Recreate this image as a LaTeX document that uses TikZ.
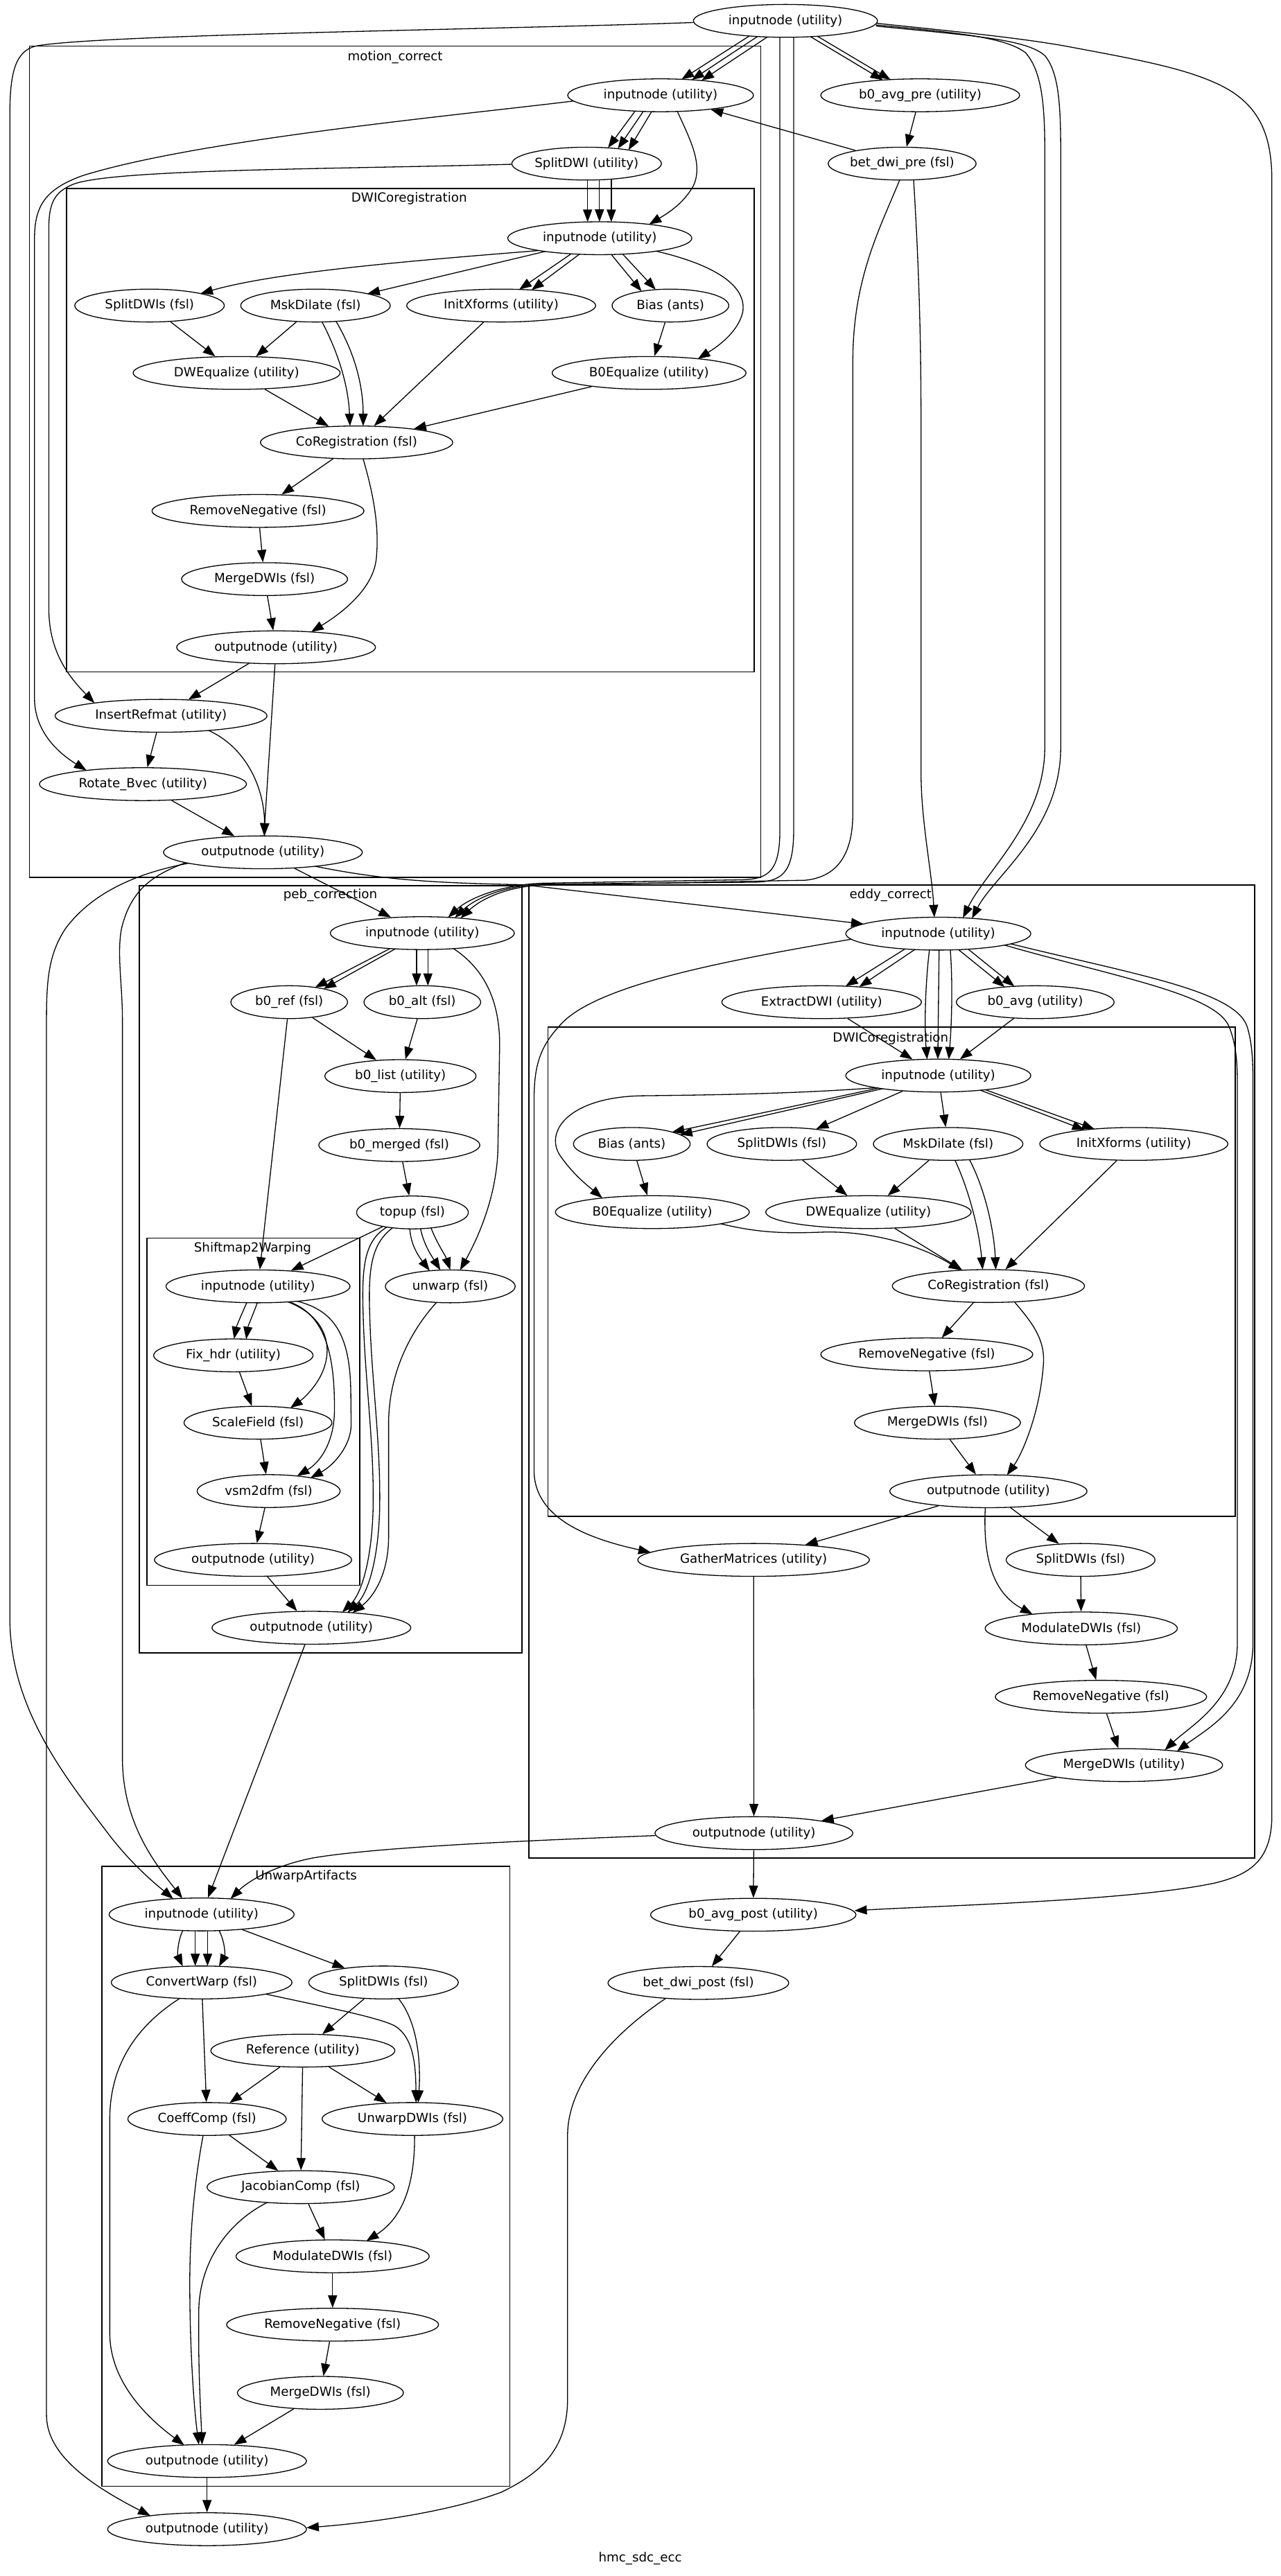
\documentclass[tikz,border=0pt]{standalone}
\usepackage{fontspec}
\setmainfont{DejaVu Sans}
\usetikzlibrary{arrows.meta,shapes.geometric}
\begin{document}
\begin{tikzpicture}[x=1pt,y=-1pt,
  nd/.style={draw, ellipse, line width=0.55pt, inner sep=0pt, minimum height=20pt, font=\fontsize{7.7}{9}\selectfont},
  cl/.style={draw, line width=0.7pt},
  lbl/.style={font=\fontsize{7.7}{9}\selectfont, inner sep=0pt},
  e/.style={line width=0.55pt, -{Triangle[length=7.5pt,width=5.5pt]}},
]
\fill[white] (0,0) rectangle (779.2,1568);
\path[use as bounding box] (0,0) rectangle (779.2,1568);

% ---------- clusters ----------
\draw[cl] (18,28) rectangle (463,534);
\node[lbl] at (240.5,35) {motion\_correct};
\draw[cl] (40.5,114.7) rectangle (459,409);
\node[lbl] at (249,121) {DWICoregistration};
\draw[cl] (84.8,539) rectangle (317.7,1006);
\node[lbl] at (201,545) {peb\_correction};
\draw[cl] (89.3,753.6) rectangle (218.8,965);
\node[lbl] at (153.7,759.8) {Shiftmap2Warping};
\draw[cl] (322,538.6) rectangle (763.4,1131);
\node[lbl] at (542,545) {eddy\_correct};
\draw[cl] (333.4,625.3) rectangle (751.8,923);
\node[lbl] at (542,632) {DWICoregistration};
\draw[cl] (62,1136) rectangle (310.3,1513.3);
\node[lbl] at (186.3,1142) {UnwarpArtifacts};
\node[lbl] at (389.6,1557.3) {hmc\_sdc\_ecc};

% ---------- top level nodes ----------
\node[nd, minimum width=112] (tin) at (478,12.7) {inputnode (utility)};
\node[nd, minimum width=121] (b0pre) at (560,58) {b0\_avg\_pre (utility)};
\node[nd, minimum width=90] (betpre) at (549,99.6) {bet\_dwi\_pre (fsl)};
\node[nd, minimum width=125] (b0post) at (458.4,1165.5) {b0\_avg\_post (utility)};
\node[nd, minimum width=110] (betpost) at (425,1207) {bet\_dwi\_post (fsl)};
\node[nd, minimum width=121] (tout) at (126,1539.5) {outputnode (utility)};

% motion_correct
\node[nd, minimum width=113] (mcin) at (402,58) {inputnode (utility)};
\node[nd, minimum width=91] (splitdwi) at (357,99.6) {SplitDWI (utility)};
\node[nd, minimum width=112] (mcdin) at (365,145) {inputnode (utility)};
\node[nd, minimum width=91] (mcsplit) at (91,186) {SplitDWIs (fsl)};
\node[nd, minimum width=91] (mcmsk) at (192,186) {MskDilate (fsl)};
\node[nd, minimum width=115] (mcinit) at (305,186) {InitXforms (utility)};
\node[nd, minimum width=71] (mcbias) at (408,186) {Bias (ants)};
\node[nd, minimum width=126] (mcdwe) at (144,227) {DWEqualize (utility)};
\node[nd, minimum width=118] (mcb0e) at (395,227) {B0Equalize (utility)};
\node[nd, minimum width=117] (mccoreg) at (217,269.3) {CoRegistration (fsl)};
\node[nd, minimum width=129] (mcrn) at (157,311) {RemoveNegative (fsl)};
\node[nd, minimum width=101] (mcmerge) at (161,352.5) {MergeDWIs (fsl)};
\node[nd, minimum width=121] (mcdout) at (168,394) {outputnode (utility)};
\node[nd, minimum width=129] (mcins) at (98,435.7) {InsertRefmat (utility)};
\node[nd, minimum width=126] (mcrot) at (87,477.3) {Rotate\_Bvec (utility)};
\node[nd, minimum width=121] (mcout) at (160,518.8) {outputnode (utility)};

% peb_correction
\node[nd, minimum width=112] (pin) at (257,568) {inputnode (utility)};
\node[nd, minimum width=71] (pref) at (176,610) {b0\_ref (fsl)};
\node[nd, minimum width=71] (palt) at (257,610) {b0\_alt (fsl)};
\node[nd, minimum width=92] (plist) at (243.7,655) {b0\_list (utility)};
\node[nd, minimum width=98] (pmerged) at (243,697) {b0\_merged (fsl)};
\node[nd, minimum width=68] (ptopup) at (251,738) {topup (fsl)};
\node[nd, minimum width=79] (punwarp) at (274,783) {unwarp (fsl)};
\node[nd, minimum width=112] (sin) at (157,783) {inputnode (utility)};
\node[nd, minimum width=97] (sfix) at (142,825) {Fix\_hdr (utility)};
\node[nd, minimum width=90] (sscale) at (157,866) {ScaleField (fsl)};
\node[nd, minimum width=87] (svsm) at (163.5,907.6) {vsm2dfm (fsl)};
\node[nd, minimum width=120] (sout) at (154,949.5) {outputnode (utility)};
\node[nd, minimum width=121] (pout) at (189.5,990.8) {outputnode (utility)};

% eddy_correct
\node[nd, minimum width=112.6] (ein) at (571,568.3) {inputnode (utility)};
\node[nd, minimum width=121.5] (eext) at (500,610) {ExtractDWI (utility)};
\node[nd, minimum width=96] (eb0) at (630,610) {b0\_avg (utility)};
\node[nd, minimum width=112.6] (edin) at (571,654.7) {inputnode (utility)};
\node[nd, minimum width=71] (ebias) at (384.5,696.3) {Bias (ants)};
\node[nd, minimum width=91] (esplit) at (475.8,696.3) {SplitDWIs (fsl)};
\node[nd, minimum width=91] (emsk) at (577,696.3) {MskDilate (fsl)};
\node[nd, minimum width=114.5] (einit) at (690,696.3) {InitXforms (utility)};
\node[nd, minimum width=118] (eb0e) at (397,737.8) {B0Equalize (utility)};
\node[nd, minimum width=125] (edwe) at (528.5,737.8) {DWEqualize (utility)};
\node[nd, minimum width=117] (ecoreg) at (601.5,782.8) {CoRegistration (fsl)};
\node[nd, minimum width=129] (ern) at (564,824.4) {RemoveNegative (fsl)};
\node[nd, minimum width=101] (emerge) at (570.5,866) {MergeDWIs (fsl)};
\node[nd, minimum width=120] (edout) at (601.5,907.7) {outputnode (utility)};
\node[nd, minimum width=141] (egather) at (458.6,949.5) {GatherMatrices (utility)};
\node[nd, minimum width=90.6] (esplit2) at (657.6,949.5) {SplitDWIs (fsl)};
\node[nd, minimum width=117] (emod) at (658,991.2) {ModulateDWIs (fsl)};
\node[nd, minimum width=128.6] (ern2) at (670,1032.8) {RemoveNegative (fsl)};
\node[nd, minimum width=120] (emerge2) at (684,1074.4) {MergeDWIs (utility)};
\node[nd, minimum width=120.4] (eout) at (458.8,1115.8) {outputnode (utility)};

% UnwarpArtifacts
\node[nd, minimum width=112.6] (uin) at (122.7,1165.3) {inputnode (utility)};
\node[nd, minimum width=110] (uconv) at (122.7,1206.7) {ConvertWarp (fsl)};
\node[nd, minimum width=91] (usplit) at (233.4,1206.7) {SplitDWIs (fsl)};
\node[nd, minimum width=112] (uref) at (184.3,1248.2) {Reference (utility)};
\node[nd, minimum width=96.4] (ucoeff) at (126,1289.8) {CoeffComp (fsl)};
\node[nd, minimum width=110] (uunwarp) at (251,1289.8) {UnwarpDWIs (fsl)};
\node[nd, minimum width=114] (ujac) at (183,1331.3) {JacobianComp (fsl)};
\node[nd, minimum width=117.6] (umod) at (202.4,1373.4) {ModulateDWIs (fsl)};
\node[nd, minimum width=129] (urn) at (202.4,1415) {RemoveNegative (fsl)};
\node[nd, minimum width=101] (umerge) at (195,1456.5) {MergeDWIs (fsl)};
\node[nd, minimum width=121] (uout) at (126,1498) {outputnode (utility)};

% ---------- edges: top level ----------
\draw[e] ([shift={(-22,9.2)}]tin.center) -- ([shift={(12.8,-9.7)}]mcin.center);
\draw[e] ([shift={(-17,9.5)}]tin.center) -- ([shift={(19,-9.4)}]mcin.center);
\draw[e] ([shift={(-11,9.8)}]tin.center) -- ([shift={(25,-9)}]mcin.center);
\draw[e] ([shift={(15.2,9.6)}]tin.center) -- ([shift={(-22.8,-9.3)}]b0pre.center);
\draw[e] ([shift={(19.5,9.4)}]tin.center) -- ([shift={(-18.1,-9.5)}]b0pre.center);
\draw[e] (b0pre) -- (betpre);
\draw[e] (betpre) -- (mcin);

\draw[e] ([shift={(-3.4,10)}]tin.center) -- (474.6,505) .. controls (474.6,530) and (468,535) .. (452,535.5) -- (330,537.6) .. controls (305,538.5) and (285,547) .. ([shift={(15.7,-9.6)}]pin.center);
\draw[e] ([shift={(5,10)}]tin.center) -- (483,505) .. controls (483,533) and (475,536.8) .. (458,537) -- (330,538.2) .. controls (307,539) and (289,547) .. ([shift={(19.8,-9.35)}]pin.center);
\draw[e] ([shift={(-1.5,10)}]betpre.center) .. controls (535,140) and (519,170) .. (519,220) -- (519,495) .. controls (519,522) and (508,534) .. (490,535.8) -- (330,538.8) .. controls (309,539.5) and (293,547) .. ([shift={(23.3,-9.1)}]pin.center);

\draw[e] ([shift={(7,9.9)}]betpre.center) .. controls (559,160) and (560.5,200) .. (560.5,260) -- (560.5,470) .. controls (560.5,500) and (567,530) .. ([shift={(-2.4,-10)}]ein.center);

\draw[e] ([shift={(55,2.5)}]tin.center) .. controls (585,20) and (612,23) .. (624,32) .. controls (633,42) and (635.8,60) .. (635.8,90) -- (635.8,455) .. controls (635.8,500) and (600,530) .. ([shift={(15,-9.6)}]ein.center);
\draw[e] ([shift={(55.3,3.2)}]tin.center) .. controls (595,22) and (625,24) .. (636,34) .. controls (644,44) and (645.5,62) .. (645.5,92) -- (645.5,455) .. controls (645.5,505) and (605,533) .. ([shift={(20.5,-9.3)}]ein.center);

\draw[e] ([shift={(55.6,1.5)}]tin.center) .. controls (580,19) and (620,23) .. (648.7,28.1) .. controls (690,36) and (728,42) .. (750,56) .. controls (768,68) and (774,85) .. (774,110) -- (774,1105) .. controls (774,1133) and (760,1141) .. (740,1146) .. controls (690,1157) and (570,1160) .. ([shift={(61.6,-2.5)}]b0post.center);

\draw[e] ([shift={(-56,1)}]tin.center) .. controls (300,18) and (60,21) .. (22,28) .. controls (9,31) and (6,45) .. (6,70) -- (6,985) .. controls (6,1040) and (40,1082) .. (65,1115) .. controls (80,1135) and (95,1147) .. ([shift={(-17.3,-9.5)}]uin.center);

% ---------- motion_correct ----------
\draw[e] ([shift={(-15.5,9.6)}]mcin.center) -- ([shift={(13,-9.6)}]splitdwi.center);
\draw[e] ([shift={(-10.5,9.8)}]mcin.center) -- ([shift={(19,-9.1)}]splitdwi.center);
\draw[e] ([shift={(-5.5,10)}]mcin.center) -- ([shift={(25.5,-8.3)}]splitdwi.center);
\draw[e] ([shift={(10.3,10)}]mcin.center) .. controls (420,85) and (428,100) .. (422,113) .. controls (416,124) and (406,130) .. ([shift={(30,-8.4)}]mcdin.center);
\draw[e] ([shift={(-53,3.5)}]mcin.center) .. controls (280,70) and (120,85) .. (50,107) .. controls (28,115) and (21,125) .. (21,145) -- (21,425) .. controls (21,445) and (35,458) .. ([shift={(-34.4,-8.4)}]mcrot.center);

\draw[e] ([shift={(0.6,10)}]splitdwi.center) -- ([shift={(-7.4,-9.9)}]mcdin.center);
\draw[e] ([shift={(7.8,9.85)}]splitdwi.center) -- ([shift={(-0.2,-10)}]mcdin.center);
\draw[e] ([shift={(15,9.4)}]splitdwi.center) -- ([shift={(7,-9.9)}]mcdin.center);
\draw[e] ([shift={(-45.5,0.4)}]splitdwi.center) .. controls (200,103) and (70,103) .. (45,112) .. controls (32,117) and (29.7,125) .. (29.7,140) -- (29.7,370) .. controls (29.7,395) and (40,410) .. ([shift={(-40.5,-7.8)}]mcins.center);

\draw[e] ([shift={(-37,7.5)}]mcdin.center) .. controls (260,158) and (170,165) .. ([shift={(31,-7.3)}]mcsplit.center);
\draw[e] ([shift={(-33,8)}]mcdin.center) -- ([shift={(31.6,-7.2)}]mcmsk.center);
\draw[e] ([shift={(-17.4,9.5)}]mcdin.center) -- ([shift={(11,-9.8)}]mcinit.center);
\draw[e] ([shift={(-12.4,9.75)}]mcdin.center) -- ([shift={(18.5,-9.5)}]mcinit.center);
\draw[e] ([shift={(7,9.9)}]mcdin.center) -- ([shift={(-17.6,-8.7)}]mcbias.center);
\draw[e] ([shift={(14,9.7)}]mcdin.center) -- ([shift={(-9,-9.7)}]mcbias.center);
\draw[e] ([shift={(34,7.8)}]mcdin.center) .. controls (430,160) and (455,172) .. (452,190) .. controls (449,203) and (435,212) .. ([shift={(29.7,-8.6)}]mcb0e.center);

\draw[e] (mcsplit) -- (mcdwe);
\draw[e] (mcmsk) -- (mcdwe);
\draw[e] ([shift={(4,10)}]mcmsk.center) .. controls (206,215) and (212,235) .. ([shift={(-4,-10)}]mccoreg.center);
\draw[e] ([shift={(12.5,9.6)}]mcmsk.center) .. controls (216,215) and (221,235) .. ([shift={(4,-10)}]mccoreg.center);
\draw[e] (mcinit) -- (mccoreg);
\draw[e] (mcbias) -- (mcb0e);
\draw[e] (mcdwe) -- (mccoreg);
\draw[e] (mcb0e) -- (mccoreg);
\draw[e] (mccoreg) -- (mcrn);
\draw[e] ([shift={(4,10)}]mccoreg.center) .. controls (227,300) and (231,320) .. (229,340) .. controls (227,360) and (205,375) .. ([shift={(21.4,-9.4)}]mcdout.center);
\draw[e] (mcrn) -- (mcmerge);
\draw[e] (mcmerge) -- (mcdout);
\draw[e] (mcdout) -- (mcins);
\draw[e] (mcdout) -- (mcout);
\draw[e] (mcins) -- (mcrot);
\draw[e] ([shift={(28.9,8.9)}]mcins.center) .. controls (150,455) and (161,480) .. ([shift={(1,-10)}]mcout.center);
\draw[e] (mcrot) -- (mcout);

% mcout outgoing
\draw[e] (mcout) -- (pin);
\draw[e] ([shift={(31.8,8.5)}]mcout.center) .. controls (230,535) and (260,537.5) .. (318,538.5) -- ([shift={(-45.5,-5.9)}]ein.center);
\draw[e] ([shift={(-45,6.6)}]mcout.center) .. controls (80,532) and (55,545) .. (40,565) .. controls (30,580) and (28.3,595) .. (28.3,620) -- (28.3,1470) .. controls (28.3,1492) and (50,1510) .. ([shift={(-34.5,-8.2)}]tout.center);
\draw[e] ([shift={(-47,6.3)}]mcout.center) .. controls (95,532) and (80,540) .. (74,565) .. controls (71,580) and (74.5,600) .. (74.5,620) -- (74.5,1070) .. controls (74.5,1110) and (95,1135) .. ([shift={(-11.7,-9.8)}]uin.center);

% ---------- peb_correction ----------
\draw[e] ([shift={(-19.7,9.4)}]pin.center) -- ([shift={(15.8,-9)}]pref.center);
\draw[e] ([shift={(-16.5,9.6)}]pin.center) -- ([shift={(21,-8.1)}]pref.center);
\draw[e] ([shift={(-3.5,10)}]pin.center) -- ([shift={(-3.5,-10)}]palt.center);
\draw[e] ([shift={(3.4,10)}]pin.center) -- ([shift={(3.4,-10)}]palt.center);
\draw[e] ([shift={(19,9.4)}]pin.center) .. controls (295,590) and (305,610) .. (304,640) -- (303,700) .. controls (302,730) and (290,755) .. ([shift={(6,-9.9)}]punwarp.center);
\draw[e] (pref) -- (plist);
\draw[e] (palt) -- (plist);
\draw[e] (pref) -- (sin);
\draw[e] (plist) -- (pmerged);
\draw[e] (pmerged) -- (ptopup);
\draw[e] (ptopup) -- (sin);
\draw[e] ([shift={(-1.6,10)}]ptopup.center) .. controls (250,758) and (255,765) .. ([shift={(-12.5,-9.5)}]punwarp.center);
\draw[e] ([shift={(4.9,9.9)}]ptopup.center) .. controls (258,758) and (263,765) .. ([shift={(-6,-9.9)}]punwarp.center);
\draw[e] ([shift={(11.3,9.4)}]ptopup.center) .. controls (266,757) and (271,764) .. ([shift={(0,-10)}]punwarp.center);
\draw[e] ([shift={(-15.5,8.9)}]ptopup.center) .. controls (222,755) and (220,770) .. (221,800) .. controls (222,840) and (228,880) .. (227,920) .. controls (226,950) and (220,970) .. ([shift={(18.8,-9.5)}]pout.center);
\draw[e] ([shift={(-12,9.3)}]ptopup.center) .. controls (226,757) and (224,772) .. (225,800) .. controls (226,840) and (232,880) .. (231,920) .. controls (230,950) and (224,970) .. ([shift={(22,-9.3)}]pout.center);
\draw[e] ([shift={(-8.4,9.8)}]punwarp.center) .. controls (250,810) and (237,835) .. (236.5,865) -- (236.5,935) .. controls (236.5,960) and (226,973) .. ([shift={(25,-9.1)}]pout.center);

\draw[e] ([shift={(-6.8,9.9)}]sin.center) .. controls (147,800) and (144,807) .. ([shift={(0.4,-10)}]sfix.center);
\draw[e] ([shift={(-0.4,10)}]sin.center) .. controls (154,800) and (151,807) .. ([shift={(7.8,-9.9)}]sfix.center);
\draw[e] ([shift={(18.2,9.45)}]sin.center) .. controls (195,800) and (202,815) .. (198,830) .. controls (195,842) and (185,851) .. ([shift={(19.7,-9)}]sscale.center);
\draw[e] ([shift={(18.9,9.4)}]sin.center) .. controls (198,800) and (204,825) .. (203.5,860) .. controls (203,878) and (195,890) .. ([shift={(17.3,-9.2)}]svsm.center);
\draw[e] ([shift={(23.8,9.05)}]sin.center) .. controls (205,798) and (213.5,815) .. (213.5,850) -- (213.7,867) .. controls (213.7,880) and (203,892) .. ([shift={(25.5,-8.1)}]svsm.center);
\draw[e] (sfix) -- (sscale);
\draw[e] (sscale) -- (svsm);
\draw[e] (svsm) -- (sout);
\draw[e] (sout) -- (pout);
\draw[e] (pout) -- (uin);

% ---------- eddy_correct ----------
\draw[e] ([shift={(-20.2,9.3)}]ein.center) -- ([shift={(14.6,-9.7)}]eext.center);
\draw[e] ([shift={(-14.3,9.7)}]ein.center) -- ([shift={(22.9,-9.3)}]eext.center);
\draw[e] ([shift={(-5.4,9.95)}]ein.center) .. controls (563,600) and (562.5,625) .. ([shift={(-6.8,-9.9)}]edin.center);
\draw[e] ([shift={(0.5,10)}]ein.center) -- ([shift={(-0.3,-10)}]edin.center);
\draw[e] ([shift={(7.3,9.9)}]ein.center) .. controls (580,600) and (579,625) .. ([shift={(6.4,-9.9)}]edin.center);
\draw[e] ([shift={(12.3,9.75)}]ein.center) -- ([shift={(-18.6,-9.2)}]eb0.center);
\draw[e] ([shift={(18.2,9.45)}]ein.center) -- ([shift={(-12.7,-9.6)}]eb0.center);
\draw[e] ([shift={(-53,3.4)}]ein.center) .. controls (440,585) and (360,600) .. (340,625) .. controls (328,638) and (325,650) .. (325,670) -- (325,895) .. controls (325,925) and (360,937) .. ([shift={(-62.6,-4.6)}]egather.center);
\draw[e] ([shift={(40.4,7)}]ein.center) .. controls (680,595) and (740,605) .. (748,625) .. controls (752,635) and (753,645) .. (753,660) -- (753,1000) .. controls (753,1035) and (725,1050) .. ([shift={(24.8,-9.1)}]emerge2.center);
\draw[e] ([shift={(44,6.2)}]ein.center) .. controls (690,593) and (752,603) .. (759,625) .. controls (762,635) and (762.5,645) .. (762.5,660) -- (762.5,1000) .. controls (762.5,1038) and (735,1052) .. ([shift={(32.2,-8.4)}]emerge2.center);

\draw[e] (eext) -- (edin);
\draw[e] (eb0) -- (edin);
\draw[e] ([shift={(-36.3,7.6)}]edin.center) -- ([shift={(24.5,-7.2)}]ebias.center);
\draw[e] ([shift={(-34,8)}]edin.center) -- ([shift={(29.3,-5.6)}]ebias.center);
\draw[e] ([shift={(-38,7.4)}]edin.center) .. controls (480,666) and (430,666.5) .. (390,667) .. controls (345,668) and (330,690) .. (342,705) .. controls (350,716) and (358,722) .. ([shift={(-30.5,-8.6)}]eb0e.center);
\draw[e] (edin) -- (esplit);
\draw[e] (edin) -- (emsk);
\draw[e] ([shift={(25.6,8.9)}]edin.center) -- ([shift={(-30,-8.5)}]einit.center);
\draw[e] ([shift={(28.6,8.6)}]edin.center) -- ([shift={(-24,-9.1)}]einit.center);
\draw[e] (ebias) -- (eb0e);
\draw[e] (esplit) -- (edwe);
\draw[e] (emsk) -- (edwe);
\draw[e] ([shift={(4.2,10)}]emsk.center) .. controls (590,725) and (596,750) .. ([shift={(-3.5,-10)}]ecoreg.center);
\draw[e] ([shift={(13,9.6)}]emsk.center) .. controls (600,725) and (605,750) .. ([shift={(4.5,-10)}]ecoreg.center);
\draw[e] (einit) -- (ecoreg);
\draw[e] ([shift={(41.6,7.1)}]eb0e.center) .. controls (460,750) and (475,751) .. (500,750) .. controls (530,749) and (560,758) .. ([shift={(-16.7,-9.6)}]ecoreg.center);
\draw[e] (edwe) -- (ecoreg);
\draw[e] (ecoreg) -- (ern);
\draw[e] ([shift={(15.8,9.6)}]ecoreg.center) .. controls (628,805) and (636,815) .. (635,830) .. controls (633,860) and (622,885) .. ([shift={(11.3,-9.8)}]edout.center);
\draw[e] (ern) -- (emerge);
\draw[e] (emerge) -- (edout);
\draw[e] (edout) -- (egather);
\draw[e] (edout) -- (esplit2);
\draw[e] ([shift={(-1.9,10)}]edout.center) .. controls (598,950) and (605,970) .. ([shift={(-29.6,-8.6)}]emod.center);
\draw[e] (esplit2) -- (emod);
\draw[e] (emod) -- (ern2);
\draw[e] (ern2) -- (emerge2);
\draw[e] (emerge2) -- (eout);
\draw[e] (egather) -- (eout);
\draw[e] (eout) -- (b0post);
\draw[e] (b0post) -- (betpost);
\draw[e] ([shift={(-60,1.5)}]eout.center) .. controls (330,1120) and (230,1124) .. (190,1131) .. controls (165,1136) and (150,1146) .. ([shift={(17.6,-9.5)}]uin.center);
\draw[e] ([shift={(-19.7,9.3)}]betpost.center) .. controls (370,1240) and (345.4,1270) .. (345.4,1300) -- (345.4,1460) .. controls (345.4,1490) and (330,1505) .. (305,1517) .. controls (270,1530) and (220,1536) .. ([shift={(60.5,-0.9)}]tout.center);

% ---------- UnwarpArtifacts ----------
\draw[e] ([shift={(-11.5,9.8)}]uin.center) .. controls (108,1182) and (108,1190) .. ([shift={(-11.5,-9.8)}]uconv.center);
\draw[e] ([shift={(-3.9,10)}]uin.center) -- ([shift={(-3.9,-10)}]uconv.center);
\draw[e] ([shift={(3.6,10)}]uin.center) -- ([shift={(3.6,-10)}]uconv.center);
\draw[e] ([shift={(10.6,9.8)}]uin.center) .. controls (137,1182) and (137,1190) .. ([shift={(10.6,-9.8)}]uconv.center);
\draw[e] (uin) -- (usplit);
\draw[e] (uconv) -- (ucoeff);
\draw[e] ([shift={(39.1,7.1)}]uconv.center) .. controls (200,1222) and (230,1228) .. (240,1233) .. controls (252,1240) and (253,1258) .. ([shift={(2.2,-10)}]uunwarp.center);
\draw[e] ([shift={(9.1,9.8)}]usplit.center) .. controls (255,1232) and (256,1258) .. ([shift={(3.5,-10)}]uunwarp.center);
\draw[e] ([shift={(-13.3,9.7)}]uconv.center) .. controls (85,1232) and (66.8,1255) .. (66.8,1290) -- (66.8,1420) .. controls (66.8,1450) and (90,1472) .. ([shift={(-13.9,-9.7)}]uout.center);
\draw[e] (usplit) -- (uref);
\draw[e] (uref) -- (ucoeff);
\draw[e] (uref) -- (uunwarp);
\draw[e] (uref) -- (ujac);
\draw[e] (ucoeff) -- (ujac);
\draw[e] ([shift={(-2.4,10)}]ucoeff.center) .. controls (118,1330) and (115.5,1360) .. (115.5,1390) .. controls (115.5,1430) and (118,1465) .. ([shift={(-5,-10)}]uout.center);
\draw[e] ([shift={(-20.3,9.3)}]ujac.center) .. controls (140,1352) and (122,1375) .. (121,1405) .. controls (120.5,1440) and (122,1465) .. ([shift={(-3,-10)}]uout.center);
\draw[e] (ujac) -- (umod);
\draw[e] ([shift={(1.3,10)}]uunwarp.center) .. controls (252.5,1330) and (245,1350) .. ([shift={(20.6,-9.4)}]umod.center);
\draw[e] (umod) -- (urn);
\draw[e] (urn) -- (umerge);
\draw[e] (umerge) -- (uout);
\draw[e] (uout) -- (tout);
\end{tikzpicture}
\end{document}
